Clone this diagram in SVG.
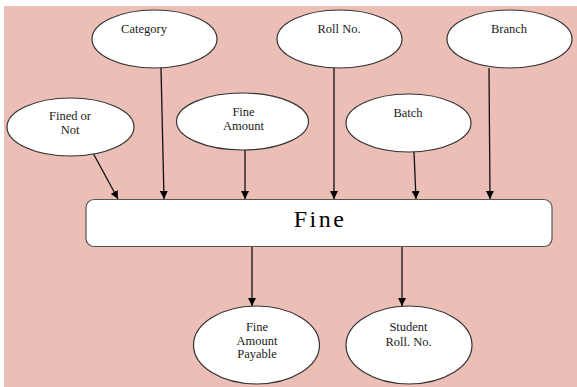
<svg xmlns="http://www.w3.org/2000/svg" width="577" height="387" viewBox="0 0 577 387">
  <style>
    .ell { fill: #ffffff; stroke: #333333; stroke-width: 1.2; }
    .box { fill: #ffffff; stroke: #555555; stroke-width: 1.2; }
    .lbl { font-family: 'Liberation Serif', 'Times New Roman', 'DejaVu Serif', serif; font-size: 12.5px; fill: #1a1a1a; text-anchor: middle; }
    .big { font-family: 'Liberation Serif', 'Times New Roman', 'DejaVu Serif', serif; font-size: 24px; letter-spacing: 2.5px; fill: #000000; text-anchor: middle; }
    .conn { stroke: #111111; stroke-width: 1.3; fill: none; marker-end: url(#arr); }
  </style>
  <defs>
    <marker id="arr" viewBox="0 0 10 10" refX="10" refY="5" markerWidth="8" markerHeight="8" markerUnits="userSpaceOnUse" orient="auto">
      <path d="M0,0 L10,5 L0,10 Z" fill="#000000"/>
    </marker>
  </defs>
  <rect x="0" y="0" width="577" height="387" fill="#ffffff"/>
  <rect x="4" y="6" width="573" height="381" fill="#ebbeb6"/>

  <g id="connectors">
    <line class="conn" x1="93" y1="153" x2="118" y2="199"/>
    <line class="conn" x1="161" y1="68" x2="164" y2="199"/>
    <line class="conn" x1="245" y1="150" x2="245" y2="199"/>
    <line class="conn" x1="334" y1="68" x2="334" y2="199"/>
    <line class="conn" x1="414" y1="152" x2="416" y2="199"/>
    <line class="conn" x1="489" y1="68" x2="490" y2="199"/>
    <line class="conn" x1="252" y1="247" x2="252" y2="306"/>
    <line class="conn" x1="402" y1="247" x2="402" y2="306"/>
  </g>

  <g id="category">
    <ellipse class="ell" cx="154.5" cy="39" rx="62.5" ry="29"/>
    <text class="lbl" x="144" y="33" font-family="Liberation Serif, serif">Category</text>
  </g>
  <g id="rollno">
    <ellipse class="ell" cx="339.5" cy="39" rx="62.5" ry="29"/>
    <text class="lbl" x="339" y="33">Roll No.</text>
  </g>
  <g id="branch">
    <ellipse class="ell" cx="509.5" cy="39" rx="62.5" ry="29"/>
    <text class="lbl" x="509" y="33">Branch</text>
  </g>
  <g id="fined-or-not">
    <ellipse class="ell" cx="70.5" cy="127" rx="63.5" ry="29"/>
    <text class="lbl" x="70" y="120">Fined or</text>
    <text class="lbl" x="70" y="134">Not</text>
  </g>
  <g id="fine-amount">
    <ellipse class="ell" cx="242.5" cy="121.5" rx="66" ry="28.5"/>
    <text class="lbl" x="243.5" y="115.5">Fine</text>
    <text class="lbl" x="243.5" y="129.5">Amount</text>
  </g>
  <g id="batch">
    <ellipse class="ell" cx="408.5" cy="123" rx="62.5" ry="29"/>
    <text class="lbl" x="408" y="116.5">Batch</text>
  </g>
  <g id="fine">
    <rect class="box" x="86" y="199.5" width="466" height="47" rx="8" ry="8"/>
    <text class="big" x="320" y="227">Fine</text>
  </g>
  <g id="fine-amount-payable">
    <ellipse class="ell" cx="256.5" cy="345" rx="63" ry="39"/>
    <text class="lbl" x="257" y="331">Fine</text>
    <text class="lbl" x="257" y="344.5">Amount</text>
    <text class="lbl" x="257" y="358">Payable</text>
  </g>
  <g id="student-roll-no">
    <ellipse class="ell" cx="409" cy="345" rx="63" ry="39"/>
    <text class="lbl" x="408.5" y="331">Student</text>
    <text class="lbl" x="408.5" y="345.5">Roll. No.</text>
  </g>
</svg>
